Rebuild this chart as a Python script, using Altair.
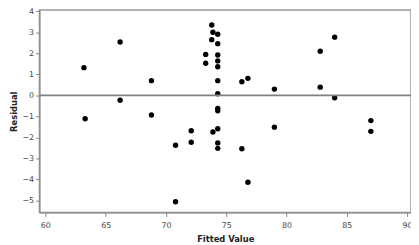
import altair as alt
import pandas as pd

fitted = [63.2, 63.3, 66.2, 66.2, 68.8, 68.8, 70.8, 70.8, 72.1, 72.1,
          73.8, 73.9, 73.8, 73.3, 73.3, 73.9,
          74.3, 74.3, 74.3, 74.3, 74.3, 74.3, 74.3, 74.3, 74.3, 74.3, 74.3, 74.3,
          76.3, 76.8, 76.3, 76.8, 79.0, 79.0, 82.8, 82.8, 84.0, 84.0, 87.0, 87.0]
residual = [1.32, -1.11, 2.54, -0.23, 0.70, -0.93, -2.37, -5.06, -1.68, -2.23,
            3.35, 3.0, 2.65, 1.95, 1.53, -1.74,
            2.91, 2.46, 1.92, 1.64, 1.36, 0.70, 0.08, -0.62, -0.73, -1.59, -2.26, -2.52,
            0.65, 0.81, -2.54, -4.13, 0.30, -1.51, 2.10, 0.39, 2.77, -0.11, -1.20, -1.71]

x_ticks = [60, 65, 70, 75, 80, 85, 90]
y_ticks = [-5, -4, -3, -2, -1, 0, 1, 2, 3, 4]

df = pd.DataFrame({"fitted": fitted, "residual": residual})

y_axis = alt.Axis(values=y_ticks, title="Residual", titlePadding=4, labelOverlap=False)

points = alt.Chart(df).mark_circle(size=30, color="black", opacity=1).encode(
    x=alt.X("fitted:Q", scale=alt.Scale(domain=[59.51, 90.33], nice=False, zero=False),
            axis=alt.Axis(values=x_ticks, title="Fitted Value", titlePadding=6,
                          labelPadding=5, labelOverlap=False)),
    y=alt.Y("residual:Q", scale=alt.Scale(domain=[-5.57, 4.06], nice=False, zero=False),
            axis=y_axis),
)

zero = alt.Chart(pd.DataFrame({"y": [0]})).mark_rule(color="#808080", strokeWidth=1.6).encode(
    y=alt.Y("y:Q", axis=y_axis)
)

chart = (points + zero).properties(
    width=378, height=206,
    background="white",
    autosize=alt.AutoSizeParams(type="none"),
    padding={"left": 32, "top": 0, "right": 0, "bottom": 30},
).configure_view(stroke="#999", strokeWidth=1.5).configure_axis(
    labelFont="DejaVu Sans", labelFontSize=8, labelColor="#444",
    labelOverlap=False, labelFlush=False,
    titleFont="DejaVu Sans", titleFontSize=8.5, titleFontWeight="bold", titleColor="#222",
    domainColor="#888", domainWidth=1.2, tickColor="#888", tickSize=4, grid=False,
)

chart.save("out.html", embed_options={"renderer": "svg", "actions": False})
